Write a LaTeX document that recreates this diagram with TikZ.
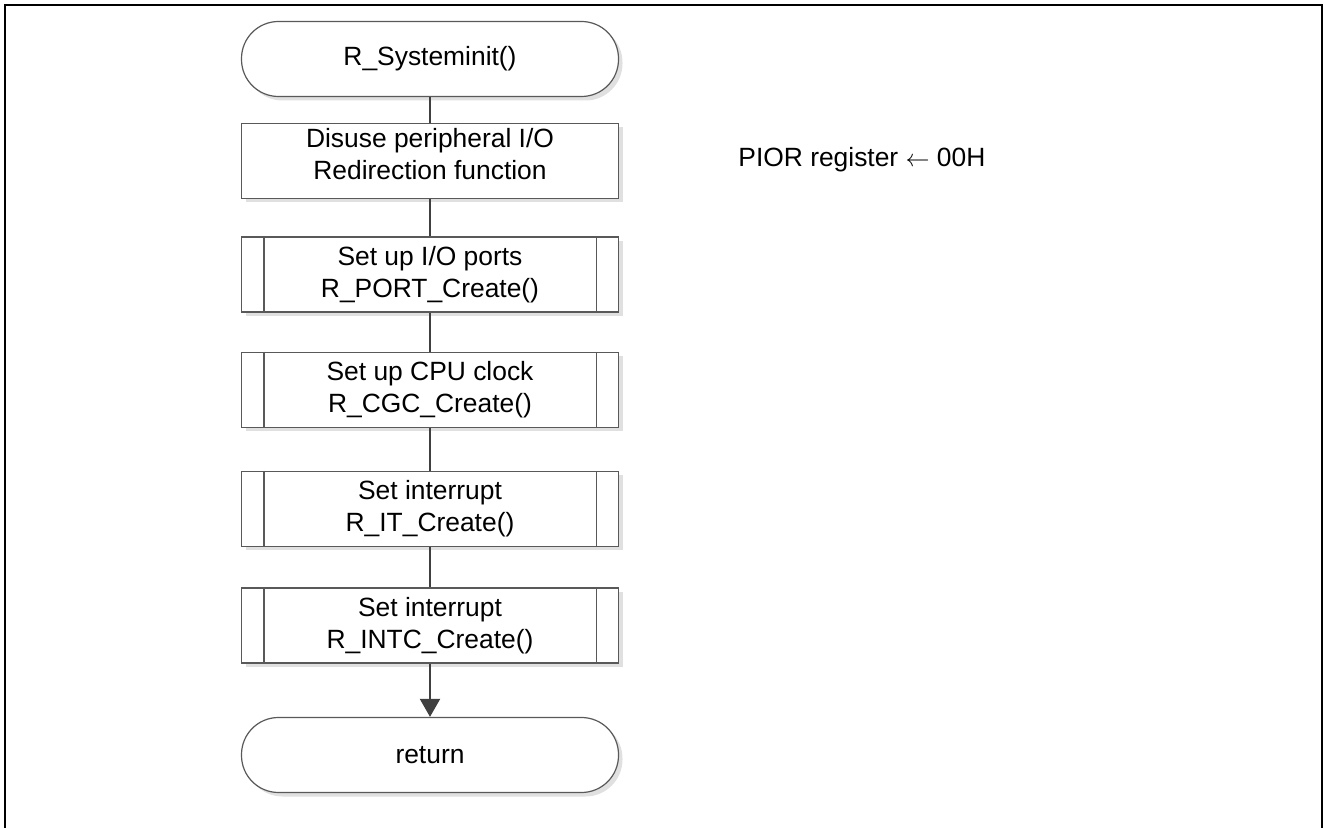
\documentclass[tikz,border=0pt]{standalone}
\usepackage{fontspec}
\setmainfont{Liberation Sans}
\usepackage{tikz}
\usetikzlibrary{arrows.meta, shadows}
\tikzset{
boxline/.style={draw=black!65, line width=0.6pt},
flow/.style={draw=black!75, line width=1pt},
process/.style={shape=rectangle, boxline, fill=white, minimum width=188.5pt, minimum height=37.5pt, inner sep=0, align=center, font=\fontsize{13.2pt}{16pt}\selectfont, drop shadow={shadow xshift=2pt, shadow yshift=-2pt, fill=black!12, opacity=1}},
subproc/.style={process},
terminal/.style={process, rounded corners=18.5pt}}

\begin{document}
\begin{tikzpicture}[x=0.5pt, y=-0.5pt]
\useasboundingbox (0,0) rectangle (1324,828);
\fill [white] (0,0) rectangle (1324,828);
\draw [line width=1pt] (5,828) -- (5,5) -- (1322,5) -- (1322,828);
\node [terminal] (start) at (430,59) {R\_Systeminit()};
\node [process, text depth=7pt] (b1) at (430,161) {Disuse peripheral I/O\\Redirection function};
\node [subproc] (b2) at (430,274.5) {Set up I/O ports\\R\_PORT\_Create()};
\node [subproc] (b3) at (430,390) {Set up CPU clock\\R\_CGC\_Create()};
\node [subproc] (b4) at (430,509) {Set interrupt\\R\_IT\_Create()};
\node [subproc] (b5) at (430,625.5) {Set interrupt\\R\_INTC\_Create()};
\node [terminal] (ret) at (430,755) {return};
\node [anchor=base west, inner sep=0, font=\fontsize{13.2pt}{16pt}\selectfont] (pior) at (738,167) {PIOR register $\leftarrow$ 00H};
\foreach \n in {b2,b3,b4,b5} {
  \draw [boxline] ([xshift=11.5pt]\n.north west) -- ([xshift=11.5pt]\n.south west);
  \draw [boxline] ([xshift=-11.5pt]\n.north east) -- ([xshift=-11.5pt]\n.south east);
}
\draw [flow] (start) -- (b1);
\draw [flow] (b1) -- (b2);
\draw [flow] (b2) -- (b3);
\draw [flow] (b3) -- (b4);
\draw [flow] (b4) -- (b5);
\draw [flow, -{Triangle[length=9pt, width=10pt]}, fill=black!75] (b5) -- (ret);
\end{tikzpicture}
\end{document}
